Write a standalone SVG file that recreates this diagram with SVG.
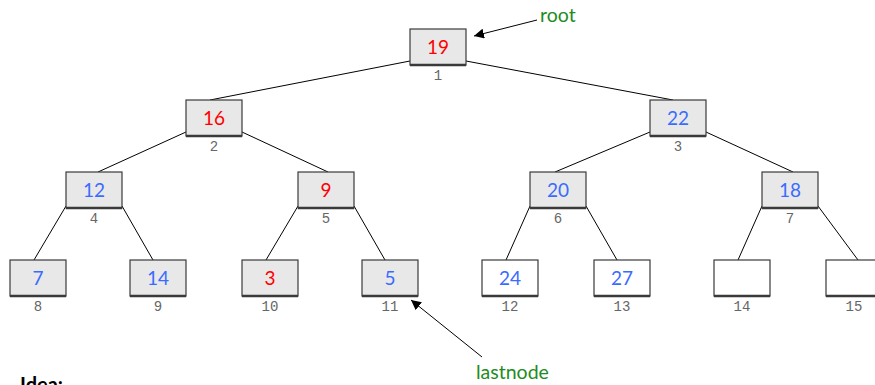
<svg xmlns="http://www.w3.org/2000/svg" width="875" height="385" viewBox="0 0 875 385">
  <defs>
    <marker id="arrow" viewBox="0 0 10 10" refX="10" refY="5" markerWidth="10" markerHeight="10" markerUnits="userSpaceOnUse" orient="auto">
      <path d="M0,0 L10,5 L0,10 z" fill="#000"/>
    </marker>
    <style>
      .box { fill: #e8e8e8; stroke: #3a3a3a; stroke-width: 1.2; }
      .box.empty { fill: #ffffff; }
      .base { stroke: #3a3a3a; stroke-width: 2.4; }
      .val { font-family: Lato, "Open Sans", sans-serif; font-size: 19px; text-anchor: middle; }
      .red { fill: #ff0000; }
      .blue { fill: #3a6bff; }
      .idx { font-family: "Liberation Mono", "DejaVu Sans Mono", monospace; font-size: 14px; fill: #666; text-anchor: middle; }
      .edge { stroke: #000; stroke-width: 1; fill: none; }
      .note { font-family: Lato, "Open Sans", sans-serif; font-size: 19.5px; fill: #1e8c1e; }
      .head { font-family: Lato, "Open Sans", sans-serif; font-size: 20px; font-weight: bold; fill: #000; }
    </style>
  </defs>

  <!-- tree edges and pointer arrows -->
  <g id="connectors">
    <line class="edge" x1="410" y1="61" x2="210" y2="100"/>
    <line class="edge" x1="466" y1="61" x2="673" y2="100"/>
    <line class="edge" x1="186" y1="132" x2="98" y2="172"/>
    <line class="edge" x1="242" y1="132" x2="328" y2="172"/>
    <line class="edge" x1="650" y1="132" x2="555" y2="172"/>
    <line class="edge" x1="706" y1="132" x2="793" y2="172"/>
    <line class="edge" x1="66" y1="206" x2="34" y2="260"/>
    <line class="edge" x1="122" y1="206" x2="153" y2="260"/>
    <line class="edge" x1="298" y1="206" x2="266" y2="260"/>
    <line class="edge" x1="354" y1="206" x2="385" y2="260"/>
    <line class="edge" x1="530" y1="206" x2="506" y2="260"/>
    <line class="edge" x1="586" y1="206" x2="617" y2="260"/>
    <line class="edge" x1="762" y1="206" x2="738" y2="260"/>
    <line class="edge" x1="818" y1="206" x2="858" y2="260"/>
    <line class="edge" x1="537" y1="20" x2="474" y2="36" marker-end="url(#arrow)"/>
    <line class="edge" x1="482" y1="357" x2="411" y2="300" marker-end="url(#arrow)"/>
  </g>

  <g id="node1">
    <rect class="box" x="410" y="29" width="56" height="36"/>
    <line class="base" x1="410" y1="65" x2="466" y2="65"/>
    <text class="val red" x="438" y="53.5">19</text>
    <text class="idx" x="438" y="80">1</text>
  </g>
  <g id="node2">
    <rect class="box" x="186" y="100" width="56" height="36"/>
    <line class="base" x1="186" y1="136" x2="242" y2="136"/>
    <text class="val red" x="214" y="124.5">16</text>
    <text class="idx" x="214" y="151">2</text>
  </g>
  <g id="node3">
    <rect class="box" x="650" y="100" width="56" height="36"/>
    <line class="base" x1="650" y1="136" x2="706" y2="136"/>
    <text class="val blue" x="678" y="124.5">22</text>
    <text class="idx" x="678" y="151">3</text>
  </g>
  <g id="node4">
    <rect class="box" x="66" y="172" width="56" height="36"/>
    <line class="base" x1="66" y1="208" x2="122" y2="208"/>
    <text class="val blue" x="94" y="196.5">12</text>
    <text class="idx" x="94" y="223">4</text>
  </g>
  <g id="node5">
    <rect class="box" x="298" y="172" width="56" height="36"/>
    <line class="base" x1="298" y1="208" x2="354" y2="208"/>
    <text class="val red" x="326" y="196.5">9</text>
    <text class="idx" x="326" y="223">5</text>
  </g>
  <g id="node6">
    <rect class="box" x="530" y="172" width="56" height="36"/>
    <line class="base" x1="530" y1="208" x2="586" y2="208"/>
    <text class="val blue" x="558" y="196.5">20</text>
    <text class="idx" x="558" y="223">6</text>
  </g>
  <g id="node7">
    <rect class="box" x="762" y="172" width="56" height="36"/>
    <line class="base" x1="762" y1="208" x2="818" y2="208"/>
    <text class="val blue" x="790" y="196.5">18</text>
    <text class="idx" x="790" y="223">7</text>
  </g>
  <g id="node8">
    <rect class="box" x="10" y="260" width="56" height="36"/>
    <line class="base" x1="10" y1="296" x2="66" y2="296"/>
    <text class="val blue" x="38" y="284.5">7</text>
    <text class="idx" x="38" y="311">8</text>
  </g>
  <g id="node9">
    <rect class="box" x="130" y="260" width="56" height="36"/>
    <line class="base" x1="130" y1="296" x2="186" y2="296"/>
    <text class="val blue" x="158" y="284.5">14</text>
    <text class="idx" x="158" y="311">9</text>
  </g>
  <g id="node10">
    <rect class="box" x="242" y="260" width="56" height="36"/>
    <line class="base" x1="242" y1="296" x2="298" y2="296"/>
    <text class="val red" x="270" y="284.5">3</text>
    <text class="idx" x="270" y="311">10</text>
  </g>
  <g id="node11">
    <rect class="box" x="362" y="260" width="56" height="36"/>
    <line class="base" x1="362" y1="296" x2="418" y2="296"/>
    <text class="val blue" x="390" y="284.5">5</text>
    <text class="idx" x="390" y="311">11</text>
  </g>
  <g id="node12">
    <rect class="box empty" x="482" y="260" width="56" height="36"/>
    <line class="base" x1="482" y1="296" x2="538" y2="296"/>
    <text class="val blue" x="510" y="284.5">24</text>
    <text class="idx" x="510" y="311">12</text>
  </g>
  <g id="node13">
    <rect class="box empty" x="594" y="260" width="56" height="36"/>
    <line class="base" x1="594" y1="296" x2="650" y2="296"/>
    <text class="val blue" x="622" y="284.5">27</text>
    <text class="idx" x="622" y="311">13</text>
  </g>
  <g id="node14">
    <rect class="box empty" x="714" y="260" width="56" height="36"/>
    <line class="base" x1="714" y1="296" x2="770" y2="296"/>
    <text class="idx" x="742" y="311">14</text>
  </g>
  <g id="node15">
    <rect class="box empty" x="826" y="260" width="56" height="36"/>
    <line class="base" x1="826" y1="296" x2="882" y2="296"/>
    <text class="idx" x="854" y="311">15</text>
  </g>

  <g id="labels">
    <text class="note" x="540" y="22">root</text>
    <text class="note" x="476" y="379">lastnode</text>
    <text class="head" x="20" y="392">Idea:</text>
  </g>
</svg>
